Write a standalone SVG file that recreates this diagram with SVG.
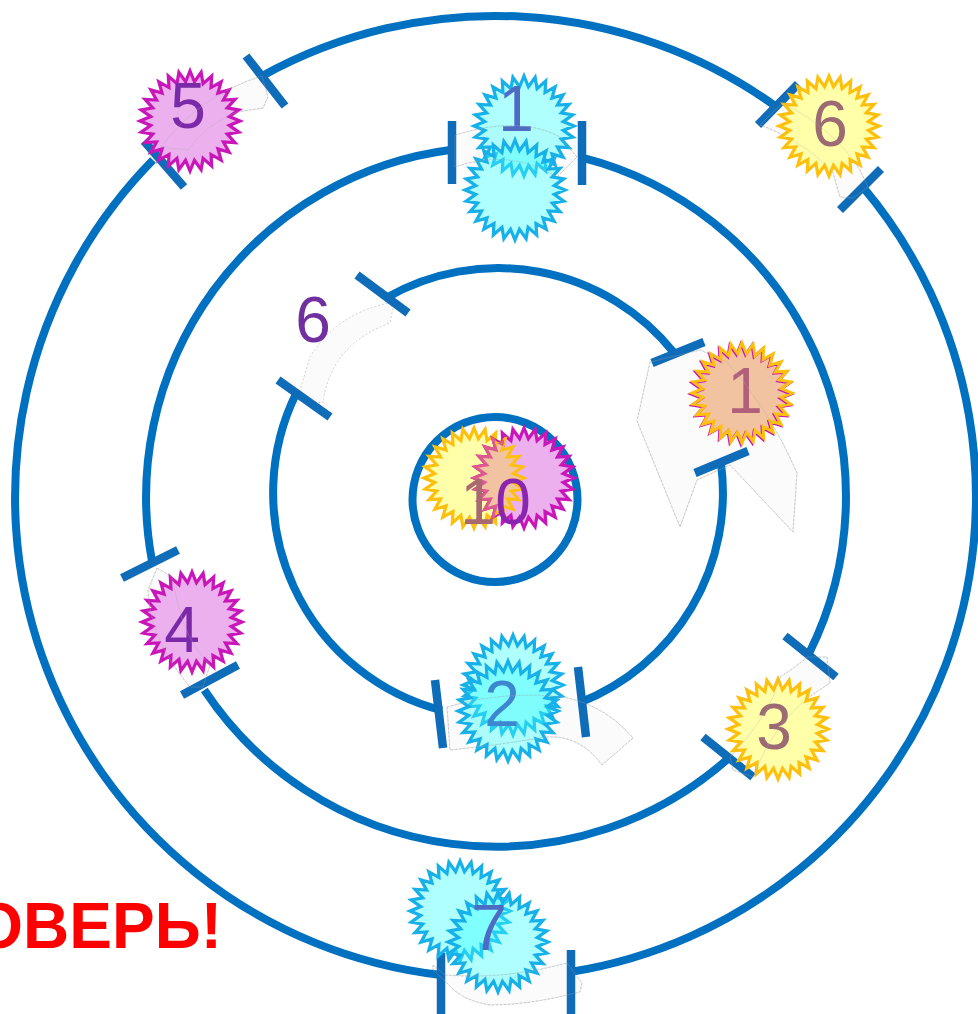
<svg xmlns="http://www.w3.org/2000/svg" width="978" height="1014" viewBox="0 0 978 1014">
<style>
.ring{fill:none;stroke:#0070c0;stroke-width:8}
.tick{stroke:#0f6cb8;stroke-width:8.5;fill:none}
.rib{fill:#fbfbfb;stroke:#d2d2d2;stroke-width:1;stroke-dasharray:2 2}
.edge{fill:none;stroke:#a8a8a8;stroke-opacity:.3;stroke-width:1}
.n{font-family:"Liberation Sans",Arial,sans-serif;font-size:64px;text-anchor:middle}
.mag{fill:#ecb0ee;stroke:#c916b8;stroke-width:3.2}
.yel{fill:#ffffaa;stroke:#fec00f;stroke-width:3.2}
.cya{fill:#39ffff;fill-opacity:.4;stroke:#17b0e8;stroke-width:3.2}
</style>
<defs>
<polygon id="star" points="50,0 39.25,4.42 48.75,11.13 37.28,13.05 45.05,21.69 33.45,21.02 39.09,31.17 27.93,27.93 31.17,39.09 21.02,33.45 21.69,45.05 13.05,37.28 11.13,48.75 4.42,39.25 0,50 -4.42,39.25 -11.13,48.75 -13.05,37.28 -21.69,45.05 -21.02,33.45 -31.17,39.09 -27.93,27.93 -39.09,31.17 -33.45,21.02 -45.05,21.69 -37.28,13.05 -48.75,11.13 -39.25,4.42 -50,0 -39.25,-4.42 -48.75,-11.13 -37.28,-13.05 -45.05,-21.69 -33.45,-21.02 -39.09,-31.17 -27.93,-27.93 -31.17,-39.09 -21.02,-33.45 -21.69,-45.05 -13.05,-37.28 -11.13,-48.75 -4.42,-39.25 0,-50 4.42,-39.25 11.13,-48.75 13.05,-37.28 21.69,-45.05 21.02,-33.45 31.17,-39.09 27.93,-27.93 39.09,-31.17 33.45,-21.02 45.05,-21.69 37.28,-13.05 48.75,-11.13 39.25,-4.42"/>
<clipPath id="cm"><use href="#star" transform="translate(524 478)"/></clipPath>
<clipPath id="cy"><use href="#star" transform="translate(474 478)"/></clipPath>
<path id="r1" d="M388,303 Q335,315 310,357 L297,400 L323,403 Q330,345 390,323 L393,308Z"/>
<path id="r2" d="M650,362 L637,421 L680,527 L697,480 L730,465 L793,532 L797,473 Q770,410 727,362 L700,350Z"/>
<path id="r3" d="M447,707 Q505,690 563,697 Q605,705 633,738 L602,765 Q580,735 547,737 Q500,745 450,750Z"/>
<path id="r4" d="M455,135 Q520,115 560,137 L577,157 L557,177 Q510,148 455,167Z"/>
<path id="r5" d="M433,965 L445,975 Q505,980 567,963 L582,983 L580,992 Q530,1005 490,1005 Q460,1000 447,983 L433,970Z"/>
<path id="r6" d="M262,76 Q200,95 161,147 L188,150 Q205,125 237,112 L263,108 L268,97Z"/>
<path id="r7" d="M775,110 L760,125 L773,130 Q815,150 833,173 L840,197 L853,198 L868,187 L860,170 Q835,130 783,103Z"/>
<path id="r8" d="M807,657 L827,657 L830,683 L815,693 Q775,720 753,777 L733,770 L730,757 Q770,715 780,677 Q795,668 807,657Z"/>
<path id="r9" d="M157,568 L148,590 Q150,640 190,687 L203,687 L210,665 Q185,640 177,600 L172,577Z"/>
</defs>
<rect width="978" height="1014" fill="#fff"/>
<g id="ribbons">
<use href="#r1" class="rib"/><use href="#r2" class="rib"/><use href="#r3" class="rib"/><use href="#r4" class="rib"/><use href="#r5" class="rib"/><use href="#r6" class="rib"/><use href="#r7" class="rib"/><use href="#r8" class="rib"/><use href="#r9" class="rib"/>
</g>
<g id="connectors">
<path class="ring" d="M262.2,76 A481,481 0 0 1 775.6,106.3"/>
<path class="ring" d="M863,187.2 A481,481 0 0 1 570,972"/>
<path class="ring" d="M441,975 A481,481 0 0 1 153,160"/>
<path class="ring" d="M452,149.8 A350,350 0 0 0 152,561"/>
<path class="ring" d="M204.3,690 A350,350 0 0 0 730,757"/>
<path class="ring" d="M809,653.5 A350,350 0 0 0 582,157.7"/>
<path class="ring" d="M386,298 A225,225 0 0 1 673.8,352.6"/>
<path class="ring" d="M721,463.5 A225,225 0 0 1 580,702.5"/>
<path class="ring" d="M442,710.5 A225,225 0 0 1 296.5,392.8"/>
<circle class="ring" cx="495" cy="499.5" r="82.5"/>
<path class="tick" d="M246,56L285,106M144,141L184,187M758,125L798,84M840,210L881,169M441,953V1014M571,950V1014M452,121V184M582,121V185M122,578L178,550M182,695L238,665M785,636L836,677M703,737L753,777M357,275L408,313M278,380L330,417M652,363L704,342M695,473L748,451M435,680L443,748M578,667L586,737"/>
</g>
<g id="node-5"><use href="#star" class="mag" transform="translate(190 121)"/><text class="n" x="188" y="128" fill="#7a2aa8">5</text></g>
<g id="node-6-outer"><use href="#star" class="yel" transform="translate(829 126)"/><text class="n" x="830" y="146" fill="#9c6a72">6</text></g>
<g id="node-1-top"><use href="#star" class="cya" transform="translate(524 126)"/><use href="#star" class="cya" transform="translate(515 190)"/><text class="n" x="516" y="131" fill="#4f6cc4">1</text></g>
<g id="node-6-inner"><text class="n" x="313" y="342" fill="#7030a0">6</text></g>
<g id="node-1-right"><use href="#star" fill="#f2c3a0" stroke="#c916b8" stroke-width="3" transform="translate(741 394)"/><use href="#star" fill="none" stroke="#fec00f" stroke-width="3" transform="translate(742 393)"/><text class="n" x="745" y="413" fill="#b0607a">1</text></g>
<g id="node-10">
<use href="#star" class="yel" transform="translate(474 478)"/>
<use href="#star" class="mag" transform="translate(524 478)"/>
<g clip-path="url(#cm)"><use href="#star" fill="#f2c3a0" stroke="#fec00f" stroke-width="3" transform="translate(474 478)"/></g>
<g clip-path="url(#cy)"><use href="#star" fill="none" stroke="#dc5a8e" stroke-width="3" transform="translate(524 478)"/></g>
<text class="n" x="478" y="524" fill="#a86a70">1</text><text class="n" x="513" y="524" fill="#8a25b0">0</text></g>
<g id="node-4"><use href="#star" class="mag" transform="translate(192 622)"/><text class="n" x="182" y="652" fill="#7a2aa8">4</text></g>
<g id="node-3"><use href="#star" class="yel" transform="translate(778 729)"/><text class="n" x="774" y="749" fill="#9c6a72">3</text></g>
<g id="node-2"><use href="#star" class="cya" transform="translate(513 685)"/><use href="#star" class="cya" transform="translate(508 711)"/><text class="n" x="502" y="726" fill="#3e86d0">2</text></g>
<g id="node-7"><use href="#star" class="cya" transform="translate(460 911)"/><use href="#star" class="cya" transform="translate(498 942)"/><text class="n" x="489" y="950" fill="#4f6cc4">7</text></g>
<g id="ribbon-edges">
<use href="#r2" class="edge"/><use href="#r3" class="edge"/><use href="#r4" class="edge"/><use href="#r5" class="edge"/><use href="#r6" class="edge"/><use href="#r7" class="edge"/><use href="#r8" class="edge"/><use href="#r9" class="edge"/>
</g>
<text x="222" y="948" font-family="Liberation Sans,Arial,sans-serif" font-size="64" font-weight="700" fill="#ff0000" text-anchor="end">ОВЕРЬ!</text>
</svg>
